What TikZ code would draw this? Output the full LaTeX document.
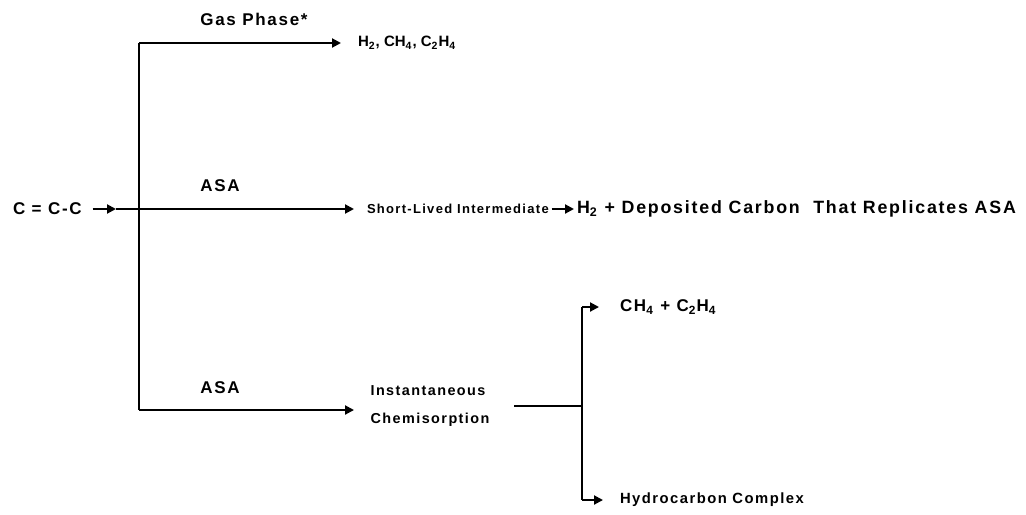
\documentclass[tikz,border=0pt]{standalone}
\usepackage{fontspec}
\setmainfont{Liberation Sans}
\newfontfamily\spacedfont{Liberation Sans}[LetterSpace=10]
\usetikzlibrary{arrows.meta}
\newcommand{\chemsub}[1]{\textsubscript{#1}}

\begin{document}
\begin{tikzpicture}[x=0.5pt,y=-0.5pt,line width=1pt,
	>={Triangle[length=4.5pt,width=4.5pt]},
	lbl/.style={font=\fontsize{8.5}{9}\spacedfont\bfseries,inner sep=1pt},
	prod/.style={font=\fontsize{7.5}{9}\selectfont\bfseries,inner sep=1pt},
	small/.style={font=\fontsize{6.5}{9}\spacedfont\bfseries,inner sep=1pt},
	big/.style={font=\fontsize{8.9}{9}\spacedfont\bfseries,inner sep=1pt}]
		\useasboundingbox (0,0) rectangle (1026,514);

		\node[lbl,anchor=west] (cc) at (10,209) {C = C-C};
		\coordinate (ccin) at (116,209);
		\coordinate (top) at (139,43);
		\coordinate (bot) at (139,410);

		\draw (top) -- (bot);
		\draw[->] ([xshift=4pt]cc.east) -- (ccin);

		% gas phase branch
		\node[prod,anchor=west] (gas) at (355,43) {H\chemsub{2}, CH\chemsub{4}, C\chemsub{2}H\chemsub{4}};
		\node[lbl] (gaslbl) at (254,19) {Gas Phase*};
		\draw[->] (top) -- ([xshift=-7pt]gas.west);

		% ASA branch
		\node[small,anchor=west] (sli) at (364,209) {Short-Lived Intermediate};
		\node[big,anchor=west] (dep) at (574,209) {H\chemsub{2} + Deposited Carbon\ \ That Replicates ASA};
		\node[lbl] (asa1) at (220,186) {ASA};
		\draw[->] (ccin) -- ([xshift=-5pt]sli.west);
		\draw[->] (sli) -- (dep);

		% chemisorption branch
		\node[small,font=\fontsize{7.2}{14}\spacedfont\bfseries,align=left] (chem) at (430,406) {Instantaneous\\Chemisorption};
		\node[lbl] (asa2) at (220,388) {ASA};
		\coordinate (chemin) at (354,410);
		\draw[->] (bot) -- (chemin);

		\coordinate (fork) at (582,406);
		\coordinate (forktop) at (582,307);
		\coordinate (forkbot) at (582,500);
		\node[lbl,anchor=west] (ch4) at (617,307) {CH\chemsub{4} + C\chemsub{2}H\chemsub{4}};
		\node[big,font=\fontsize{7.4}{9}\spacedfont\bfseries,anchor=west] (hc) at (617,500) {Hydrocarbon Complex};
		\draw ([xshift=11pt]chem.east) -- (fork);
		\draw (forktop) -- (forkbot);
		\draw[->] (forktop) -- ([xshift=-9pt]ch4.west);
		\draw[->] (forkbot) -- ([xshift=-7pt]hc.west);
\end{tikzpicture}
\end{document}
